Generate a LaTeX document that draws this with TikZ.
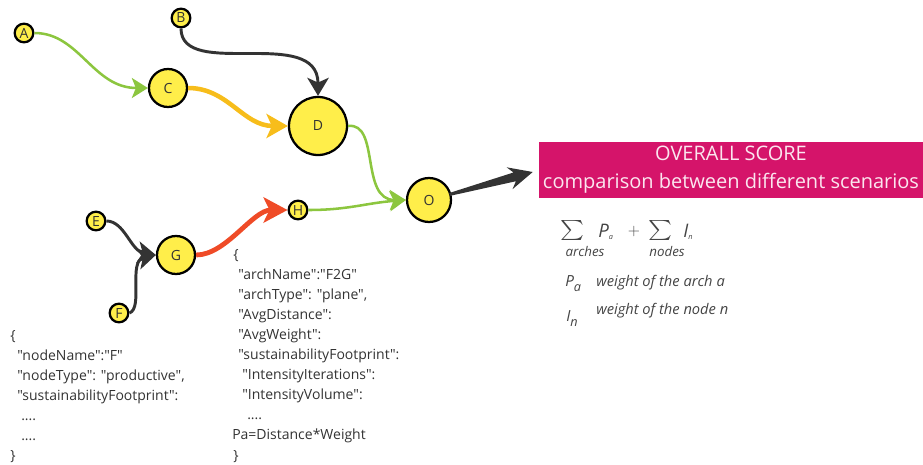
\documentclass[tikz,border=0pt]{standalone}
\usepackage{graphicx}
\usepackage{fontspec}
\setmainfont{Open Sans}
% a family without TeX ligatures, so that " stays a straight quote
\newfontfamily\plainsans{Open Sans}
\usetikzlibrary{arrows.meta,calc}

\definecolor{ink}{HTML}{333333}
\definecolor{soft}{HTML}{444444}
\definecolor{vfill}{HTML}{FFEE4A}
\definecolor{flowgreen}{HTML}{8CC63F}
\definecolor{flowamber}{HTML}{F7BD1B}
\definecolor{flowred}{HTML}{EF4B27}
\definecolor{scorepink}{HTML}{D5146A}
\definecolor{scoretext}{HTML}{FBE6EF}

\tikzset{
  vtx/.style={circle, draw=black, line width=1.7pt, fill=vfill, inner sep=0pt,
    text=ink, font=\fontsize{10.5}{10.5}\selectfont},
  vsmall/.style={vtx, minimum size=14pt},
  vmid/.style={vtx, minimum size=28.5pt},
  vbig/.style={vtx, minimum size=43.5pt},
  vout/.style={vtx, minimum size=33pt},
  greenflow/.style={draw=flowgreen, line width=1.9pt,
    -{Stealth[length=12pt, width=15pt, inset=3pt]}},
  darkflow/.style={draw=ink, line width=2.2pt,
    -{Stealth[length=13.5pt, width=16pt, inset=3.5pt]}},
  amberflow/.style={draw=flowamber, line width=3.4pt,
    -{Stealth[length=16pt, width=18pt, inset=4pt]}},
  redflow/.style={draw=flowred, line width=3.6pt,
    -{Stealth[length=18pt, width=19pt, inset=4.5pt]}},
  code/.style={anchor=base west, inner sep=0pt, text=ink,
    font=\plainsans\fontsize{10.5}{10.5}\selectfont},
  legend/.style={inner sep=0pt, text=soft, font=\fontsize{11}{11}\selectfont\itshape},
  sumsign/.style={inner sep=0pt, text=soft},
  scorebox/.style={rectangle, fill=scorepink, text=scoretext, inner sep=0pt,
    minimum width=288pt, minimum height=42pt, align=center,
    font=\fontsize{15}{21}\selectfont}
}

\begin{document}
\begin{tikzpicture}[x=0.75pt, y=-0.75pt]
\useasboundingbox (0,0) rectangle (923,464);

% --- vertices of the network ---
\node[vsmall] (A) at (24,33)  {A};
\node[vsmall] (B) at (181,18) {B};
\node[vmid]   (C) at (168,88) {C};
\node[vbig]   (D) at (318,126) {D};
\node[vout]   (O) at (429,200) {O};
\node[vsmall] (H) at (298,210) {H};
\node[vsmall] (E) at (96,221) {E};
\node[vmid]   (G) at (176,255) {G};
\node[vsmall] (F) at (119,313) {F};

% --- arches ---
\draw[greenflow] (A.east) .. controls +(45,0) and +(-55,0) .. (C.west);
\draw[amberflow] (C.east) .. controls +(40,0) and +(-45,0) .. (D.west);
\draw[darkflow]  (B.south) .. controls +(0,52) and +(0,-71) .. (D.north);
\draw[greenflow] (D.east) .. controls +(32,-4) and +(-46,0) .. (O.west);
\draw[greenflow] (H.east) .. controls +(40,0) and +(-40,3) .. (O.west);
\draw[darkflow]  (E.east) .. controls +(18,0) and +(-25,-4) .. (G.west);
\draw[darkflow]  (F.east) .. controls +(14,-5) and +(-28,6) .. (G.west);
\draw[redflow]   (G.east) .. controls +(30,0) and +(-35,0) .. (H.west);

% --- overall score ---
\node[scorebox] (sc) at (731,170) {OVERALL SCORE\\comparison between different scenarios};

% tapered arrow from O to the score
\coordinate (tip) at ($(sc.west)+(-6,2)$);
\coordinate (s)   at ($(O.center)!16pt!(tip)$);
\coordinate (hb)  at ($(tip)!14pt!(O.center)$);
\coordinate (hbk) at ($(tip)!18pt!(O.center)$);
\fill[ink] ($(s)!1.1pt!90:(tip)$) -- ($(hb)!3.4pt!90:(tip)$) -- ($(hbk)!8.5pt!90:(tip)$)
  -- (tip) -- ($(hbk)!8.5pt!-90:(tip)$) -- ($(hb)!3.4pt!-90:(tip)$)
  -- ($(s)!1.1pt!-90:(tip)$) -- cycle;

% --- scoring formula ---
\node[sumsign] (sum1) at (572,230) {\scalebox{1.7}[1.5]{$\sum$}};
\node[legend, anchor=base west] (pa) at (598,237) {\fontsize{14}{14}\selectfont P\raisebox{-2pt}{\fontsize{5.5}{5.5}\selectfont a}};
\node[text=soft, inner sep=0pt] (plus) at (634,231) {\fontsize{12}{12}\selectfont$+$};
\node[sumsign] (sum2) at (660,230) {\scalebox{1.7}[1.5]{$\sum$}};
\node[legend, anchor=base west] (in) at (683,237) {\fontsize{14}{14}\selectfont I\raisebox{-2pt}{\fontsize{5.5}{5.5}\selectfont n}};
\node[legend, font=\fontsize{10}{10}\selectfont\itshape] (arches) at (585,251) {arches};
\node[legend, font=\fontsize{10}{10}\selectfont\itshape] (nodes) at (667,251) {nodes};

\node[legend, anchor=base west] (pkey) at (565,286) {\fontsize{11.5}{11.5}\selectfont P\raisebox{-4pt}{\fontsize{9.5}{9.5}\selectfont a}};
\node[legend, anchor=base west] (ptext) at (596,286) {weight of the arch a};
\node[legend, anchor=base west] (ikey) at (566,321) {\fontsize{11.5}{11.5}\selectfont I\raisebox{-4pt}{\fontsize{9.5}{9.5}\selectfont n}};
\node[legend, anchor=base west] (itext) at (596,314) {weight of the node n};

% --- node record ---
\foreach \n/\x/\y/\t in {
  jl1/10/340/\{,
  jl2/17/360/{"nodeName":"F"},
  jl3/17/380/{"nodeType": "productive",},
  jl4/17/400/{"sustainabilityFootprint":},
  jl5/21/420/{....},
  jl6/21/440/{....},
  jl7/10/460/\}}
  \node[code] (\n) at (\x,\y) {\t};

% --- arch record ---
\foreach \n/\x/\y/\t in {
  jr1/233/259/\{,
  jr2/238/279/{"archName":"F2G"},
  jr3/238/299/{"archType": "plane",},
  jr4/238/319/{"AvgDistance":},
  jr5/238/339/{"AvgWeight":},
  jr6/238/359/{"sustainabilityFootprint":},
  jr7/242/379/{"IntensityIterations":},
  jr8/242/399/{"IntensityVolume":},
  jr9/247/419/{....},
  jr10/232/439/{Pa=Distance*Weight},
  jr11/233/460/\}}
  \node[code] (\n) at (\x,\y) {\t};
\end{tikzpicture}
\end{document}
